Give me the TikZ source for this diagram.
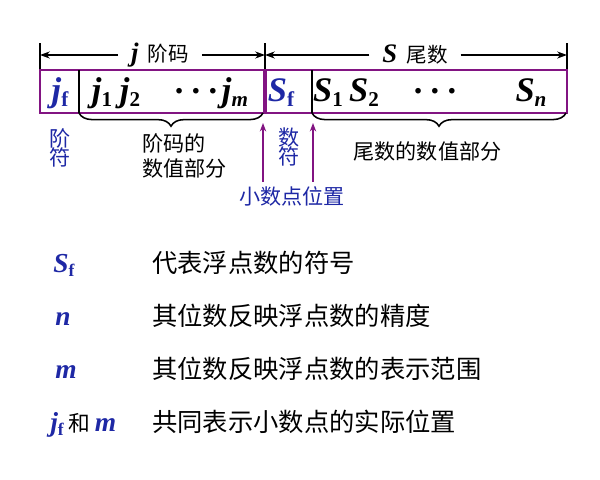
\documentclass[tikz,border=0pt]{standalone}
\usepackage{fontspec}
\setmainfont{Liberation Serif}
\newfontfamily\cjk{Noto Sans CJK SC}
\usetikzlibrary{arrows.meta}
\usetikzlibrary{decorations.pathreplacing}
\usetikzlibrary{positioning}
\definecolor{symblue}{RGB}{30,40,165}
\definecolor{fieldpurple}{RGB}{130,20,130}
\newcommand\bi[1]{\textbf{\textit{#1}}}
\newcommand\bisub[3][15]{\textbf{\textit{#2}\raisebox{-0.15em}{\fontsize{#1}{#1}\selectfont #3}}}
\newcommand\hz[2][14.6]{{\cjk\fontsize{#1}{#1}\selectfont #2}}
\newcommand\dotsrow{\raisebox{0.22em}{\textbf{.\hspace{0.24em}.\hspace{0.24em}.}}}

\begin{document}
\begin{tikzpicture}[
x=0.025cm, y=-0.025cm,
frame/.style={draw=fieldpurple, line width=1.6pt},
rule/.style={draw=black, line width=1.1pt},
dim/.style={rule, -{Stealth[length=7pt,width=5pt]}},
brace/.style={rule, decorate, decoration={brace,mirror,amplitude=0.33cm}},
pointer/.style={draw=fieldpurple, line width=1.3pt,
  -{Stealth[length=6pt,width=4.5pt]}, shorten <=3pt},
cell/.style={inner sep=0pt, anchor=base, font=\fontsize{24.5}{24}\selectfont},
head/.style={inner xsep=9pt, inner ysep=0pt, font=\fontsize{19}{19}\selectfont},
note/.style={inner sep=0pt, align=center, font=\fontsize{15}{14}\selectfont\cjk},
key/.style={inner sep=0pt, anchor=base west, font=\fontsize{19.5}{19}\selectfont},
desc/.style={inner sep=0pt, anchor=base west, font=\fontsize{18}{18}\selectfont\cjk}
]
\useasboundingbox (0,0) rectangle (600,480);

% widths of the two parts
\foreach \x in {40,265,567} \draw[rule] (\x,43) -- (\x,70);
\coordinate (jl) at (40,55);
\coordinate (mid) at (265,55);
\coordinate (sr) at (567,55);
\node[head] (jhead) at (160,55) {\bi{j}\hspace{0.35em}\hz{阶码}};
\node[head] (shead) at (415,55) {\bi{S}\hspace{0.35em}\hz{尾数}};
\draw[dim] (jhead.west) -- (jhead.west -| jl);
\draw[dim] (jhead.east) -- (jhead.east -| mid);
\draw[dim] (shead.west) -- (shead.west -| mid);
\draw[dim] (shead.east) -- (shead.east -| sr);

% the word
\draw[frame] (40,70) rectangle (567,113);
\draw[frame, line width=2.2pt] (265,70) -- (265,113);
\draw[rule] (79,70) -- (79,113);
\draw[rule] (312,70) -- (312,113);
\draw[brace] (79,113) -- (263,113);
\draw[brace] (312,113) -- (566,113);

\node[cell, text=symblue] (jf) at (60,101) {\bisub{j}{\upshape f}};
\node[cell] (j1) at (102,101) {\bisub{j}{\upshape 1}};
\node[cell] (j2) at (130,101) {\bisub{j}{\upshape 2}};
\node[cell] (jdots) at (196,101) {\dotsrow};
\node[cell] (jm) at (235,101) {\bisub{j}{\itshape m}};
\node[cell, text=symblue] (sf) at (281,101) {\bisub{S}{\upshape f}};
\node[cell] (s1) at (328,101) {\bisub{S}{\upshape 1}};
\node[cell] (s2) at (364,101) {\bisub{S}{\upshape 2}};
\node[cell] (sdots) at (435,101) {\dotsrow};
\node[cell] (sn) at (531,101) {\bisub{S}{\itshape n}};

% what the parts are
\node[note, text=symblue] (jsign) at (60,148) {阶\\符};
\node[note, align=left, font=\fontsize{15}{17.8}\selectfont\cjk] (jval) at (184.5,155.5) {阶码的\\数值部分};
\node[note, text=symblue] (ssign) at (289,147) {数\\符};
\node[note] (sval) at (427.5,151) {尾数的数值部分};
\node[note, text=symblue] (point) at (292,196) {小数点位置};
\coordinate (p1) at (263,123);
\coordinate (p2) at (313,123);
\draw[pointer] (point.north -| p1) -- (p1);
\draw[pointer] (point.north -| p2) -- (p2);

% legend
\node[key, text=symblue] (ksf) at (53,272) {\bisub[12.5]{S}{\upshape f}};
\node[desc] (dsf) at (152,272) {代表浮点数的符号};
\node[key, text=symblue] (kn) at (55,325) {\bi{n}};
\node[desc] (dn) at (152,325) {其位数反映浮点数的精度};
\node[key, text=symblue] (km) at (55,378) {\bi{m}};
\node[desc] (dm) at (152,378) {其位数反映浮点数的表示范围};
\node[key] (kjm) at (50,431) {{\color{symblue}\bisub[12.5]{j}{\upshape f}}\,\hz[15.5]{和}\,{\color{symblue}\bi{m}}};
\node[desc] (djm) at (152,431) {共同表示小数点的实际位置};
\end{tikzpicture}
\end{document}
